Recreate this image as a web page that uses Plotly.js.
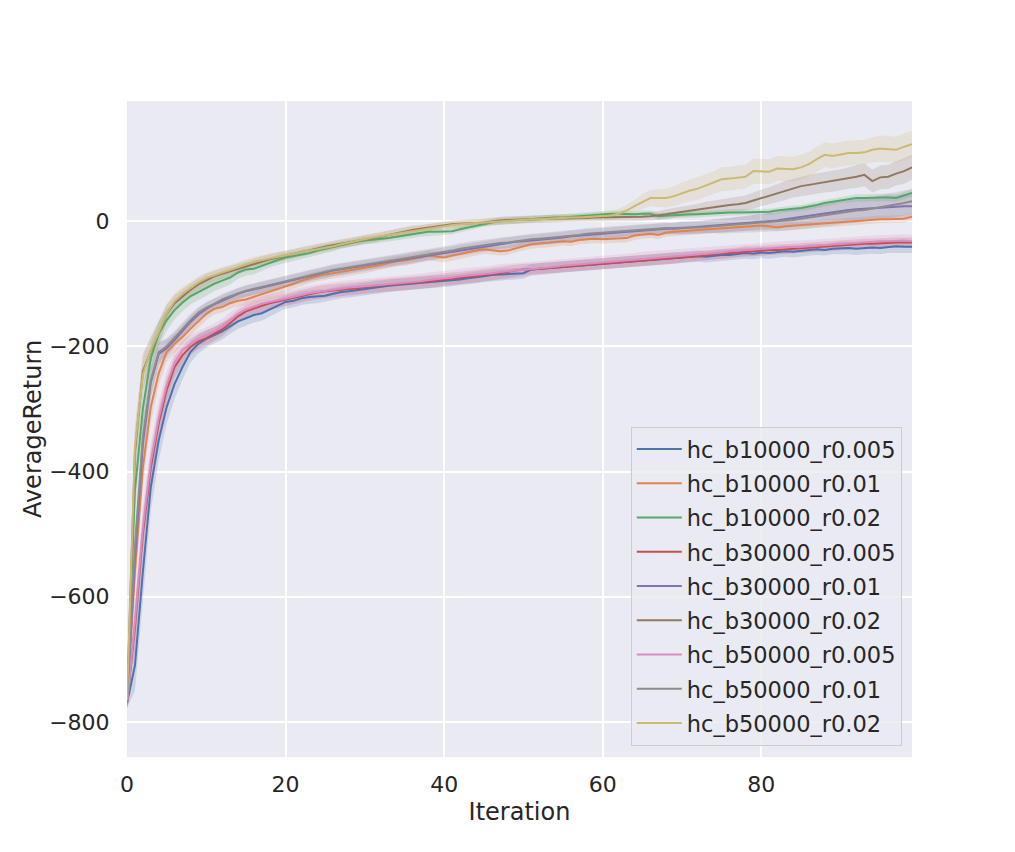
<!DOCTYPE html>
<html>
<head>
<meta charset="utf-8">
<script src="https://cdn.plot.ly/plotly-3.0.1.min.js"></script>
<style>html,body{margin:0;padding:0;background:#fff;}#chart{width:1015px;height:852px;}</style>
</head>
<body>
<div id="chart"></div>
<script>
// ---- data ----
const seriesNames = ["hc_b10000_r0.005","hc_b10000_r0.01","hc_b10000_r0.02","hc_b30000_r0.005","hc_b30000_r0.01","hc_b30000_r0.02","hc_b50000_r0.005","hc_b50000_r0.01","hc_b50000_r0.02"];
const seriesColors = ["#4C72B0","#DD8452","#55A868","#C44E52","#8172B3","#937860","#DA8BC3","#8C8C8C","#CCB974"];
const iterations = Array.from({length:100},(_,i)=>i);

const b10000_r0005 = [-770,-710,-560,-425,-350,-297,-260,-233,-209,-196,-188,-182,-176,-168,-160,-155,-150,-147,-141,-135,-129,-127,-123,-121,-120,-119,-116,-113,-112,-110,-109,-107,-105,-103,-102,-101,-100,-99,-98,-97,-96,-95,-93,-91,-90,-88,-86,-85,-84,-84,-83,-77,-76,-75,-74,-73,-72,-71,-70,-69,-68,-67,-66,-65,-64,-63,-62,-61,-61,-60,-58,-57,-56,-57,-55,-54,-54,-52,-51,-52,-50,-51,-49,-48,-49,-47,-46,-45,-46,-44,-43,-43,-44,-43,-42,-43,-41,-40,-41,-41];
const b10000_r001 = [-768,-560,-394,-297,-243,-209,-196,-185,-172,-160,-148,-140,-137,-131,-127,-125,-121,-117,-113,-109,-105,-100,-95,-91,-88,-85,-83,-81,-79,-77,-75,-73,-70,-67,-64,-63,-61,-58,-55,-56,-58,-55,-52,-50,-47,-45,-46,-48,-47,-43,-40,-37,-36,-35,-34,-32,-33,-30,-29,-28,-29,-28,-27,-27,-23,-21,-20,-22,-18,-17,-16,-15,-14,-14,-13,-12,-11,-10,-9,-8,-7,-8,-10,-8,-7,-6,-5,-5,-4,-3,-2,-1,0,1,2,3,3,4,4,7];
const b10000_r002 = [-768,-430,-300,-219,-180,-158,-142,-130,-120,-113,-107,-100,-95,-90,-82,-77,-76,-71,-66,-62,-58,-56,-54,-51,-47,-44,-42,-38,-36,-33,-31,-30,-29,-27,-25,-23,-21,-19,-17,-17,-17,-16,-13,-10,-7,-4,-2,0,1,1,2,3,4,5,6,6,7,8,10,11,12,12,12,11,11,12,12,8,9,10,10,11,11,12,13,13,14,14,14,15,15,15,17,19,20,21,23,26,29,31,34,35,37,37,38,38,38,37,41,45];
const b30000_r0005 = [-768,-650,-500,-394,-323,-270,-233,-214,-201,-192,-187,-180,-173,-163,-152,-144,-139,-135,-131,-128,-125,-122,-119,-116,-114,-112,-111,-110,-108,-107,-106,-104,-103,-102,-101,-100,-99,-98,-97,-95,-93,-92,-90,-89,-88,-86,-85,-83,-81,-79,-77,-77,-76,-75,-74,-73,-72,-70,-69,-68,-67,-66,-65,-64,-63,-62,-61,-61,-60,-59,-58,-57,-56,-55,-53,-52,-51,-50,-48,-48,-47,-46,-46,-45,-44,-43,-42,-41,-40,-39,-38,-37,-37,-36,-36,-35,-35,-34,-34,-34];
const b30000_r001 = [-772,-540,-355,-258,-212,-203,-190,-175,-161,-149,-140,-133,-127,-121,-116,-112,-109,-106,-103,-100,-97,-93,-90,-87,-84,-82,-79,-77,-75,-72,-70,-68,-66,-64,-62,-60,-58,-56,-54,-52,-50,-48,-46,-44,-42,-40,-38,-36,-35,-33,-32,-31,-29,-28,-27,-26,-24,-23,-22,-21,-20,-18,-17,-16,-15,-14,-14,-13,-12,-12,-11,-11,-10,-9,-8,-7,-6,-5,-4,-3,-2,0,1,3,5,7,8,10,12,14,16,18,19,20,21,22,23,23,24,24];
const b30000_r002 = [-770,-370,-240,-207,-178,-148,-131,-120,-110,-101,-94,-88,-84,-80,-76,-72,-68,-64,-61,-58,-55,-52,-49,-46,-43,-41,-38,-36,-34,-32,-29,-27,-25,-22,-19,-16,-14,-12,-10,-8,-6,-5,-4,-4,-3,-2,0,1,2,2,3,3,3,4,4,5,5,5,5,6,6,6,6,6,6,7,8,9,11,13,15,17,19,21,23,24,26,27,29,33,37,41,45,49,53,56,58,60,62,64,66,69,71,74,64,70,71,76,80,86];
const b50000_r0005 = [-772,-640,-490,-385,-315,-262,-226,-206,-196,-188,-182,-176,-168,-158,-148,-141,-136,-132,-129,-126,-123,-121,-118,-115,-113,-111,-109,-108,-106,-105,-104,-102,-101,-100,-99,-98,-97,-96,-94,-93,-91,-90,-88,-87,-86,-84,-83,-81,-80,-78,-77,-76,-75,-74,-73,-71,-70,-69,-68,-67,-66,-65,-64,-63,-62,-60,-59,-58,-57,-56,-55,-54,-53,-52,-51,-50,-48,-47,-46,-45,-45,-44,-43,-42,-41,-41,-40,-39,-38,-37,-36,-35,-35,-34,-33,-32,-32,-31,-31,-32];
const b50000_r001 = [-770,-520,-345,-254,-209,-200,-186,-172,-158,-146,-138,-132,-125,-120,-115,-111,-108,-105,-102,-99,-96,-93,-90,-86,-83,-80,-78,-76,-74,-71,-69,-67,-65,-63,-61,-59,-57,-55,-53,-51,-49,-47,-44,-42,-40,-38,-37,-35,-34,-32,-31,-29,-28,-27,-26,-24,-23,-22,-20,-19,-18,-17,-16,-15,-15,-13,-12,-12,-11,-11,-10,-10,-10,-9,-8,-8,-7,-6,-5,-4,-3,-2,0,1,2,4,6,8,9,11,13,15,17,18,20,22,24,27,29,32];
const b50000_r002 = [-765,-360,-245,-206,-177,-147,-128,-116,-107,-98,-91,-86,-82,-78,-73,-69,-65,-62,-59,-57,-55,-52,-49,-47,-45,-43,-40,-37,-34,-31,-29,-26,-24,-22,-20,-17,-15,-13,-11,-9,-7,-6,-5,-4,-3,-2,-1,0,1,1,2,3,3,4,5,5,6,6,7,7,8,9,12,17,24,31,37,37,37,40,45,49,52,57,62,67,68,69,71,80,80,79,84,84,83,86,91,99,106,104,107,109,109,110,114,116,115,114,119,123];

// half-widths of the shaded confidence bands
const band_b10000_r0005 = [8,40,42,38,32,27,24,20,17,15,14,13,13,12,12,12,12,12,11,11,11,11,11,11,11,10,10,10,10,10,10,10,10,10,10,10,10,10,10,10,9,9,9,9,9,9,9,9,9,9,9,9,9,9,9,9,9,9,9,9,9,9,9,9,9,9,9,9,9,9,9,9,9,9,9,9,9,9,9,9,9,9,9,9,9,9,9,9,9,9,10,10,10,10,10,10,10,10,10,10];
const band_b10000_r001 = [8,35,30,25,20,16,14,12,11,10,10,9,9,9,9,9,9,8,8,8,8,8,8,8,8,8,8,8,8,8,8,8,8,8,8,8,8,8,8,8,8,8,8,8,8,7,7,7,7,7,7,7,7,7,7,7,7,7,7,7,7,7,7,7,7,7,7,7,7,7,6,6,6,6,6,6,6,6,6,6,6,6,6,6,6,6,6,6,6,6,6,6,6,6,6,6,6,6,6,6];
const band_b10000_r002 = [8,35,30,24,20,17,15,14,13,13,12,12,11,11,10,10,9,9,8,8,8,7,7,7,7,7,6,6,6,6,6,6,6,6,6,6,6,6,6,6,5,5,5,5,5,5,5,5,5,5,5,5,5,5,5,5,5,5,5,5,5,5,5,5,5,5,5,5,5,5,5,5,5,5,5,5,5,5,5,5,5,5,5,5,5,5,5,5,5,5,5,5,6,6,6,6,6,6,6,6];
const band_b30000_r0005 = [8,35,32,28,24,20,17,15,13,12,12,11,11,10,10,10,10,10,10,10,10,10,10,10,10,10,10,10,10,10,10,10,10,10,10,10,10,10,10,10,10,10,10,10,10,10,10,10,10,10,9,9,9,9,9,9,9,9,9,9,9,9,9,9,9,9,9,9,9,9,8,8,8,8,8,8,8,8,8,8,8,8,8,8,8,8,8,8,8,8,8,8,8,8,8,8,8,8,8,8];
const band_b30000_r001 = [8,35,30,24,18,14,12,11,10,10,10,9,9,9,9,9,9,9,9,9,9,9,9,9,9,9,9,9,9,9,9,9,9,9,9,9,9,9,9,9,9,9,9,9,9,9,9,9,9,9,9,9,9,9,9,9,9,9,9,9,9,9,9,9,9,9,9,9,9,9,10,10,10,10,11,11,11,12,12,12,13,13,13,14,14,14,15,15,15,16,16,16,17,17,17,18,18,18,19,19];
const band_b30000_r002 = [8,35,28,22,18,15,13,12,11,10,10,9,9,9,9,8,8,8,8,8,8,7,7,7,7,7,7,7,7,7,7,7,7,7,7,7,7,6,6,6,6,6,6,6,6,6,6,6,6,6,6,6,6,6,6,6,6,6,6,6,6,6,6,6,6,7,7,7,8,8,8,9,9,10,10,11,11,12,12,13,13,14,14,15,15,15,16,16,16,17,17,17,18,18,18,19,19,19,20,20];
const band_b50000_r0005 = [8,38,34,30,26,22,19,16,14,13,13,12,12,12,12,12,12,12,12,12,12,12,12,12,12,12,12,12,12,12,12,12,12,12,12,12,12,12,12,12,12,12,12,12,12,12,12,12,12,12,11,11,11,11,11,11,11,11,11,11,11,11,11,11,11,11,11,11,11,11,10,10,10,10,10,10,10,10,10,10,10,10,10,10,10,10,10,10,10,10,10,10,10,10,10,10,10,10,10,10];
const band_b50000_r001 = [8,35,28,22,16,13,11,10,10,9,9,9,9,9,9,9,9,9,9,9,9,9,9,9,9,9,9,9,9,9,9,9,9,9,9,9,9,9,9,9,9,9,9,9,9,9,9,9,9,9,9,9,9,9,9,9,9,9,9,9,9,9,9,9,9,9,9,9,9,9,10,10,10,11,11,12,12,13,13,14,14,15,15,16,16,16,17,17,17,18,18,18,19,19,19,20,20,20,20,20];
const band_b50000_r002 = [8,35,28,22,17,14,12,11,10,10,9,9,9,8,8,8,8,8,8,8,8,7,7,7,7,7,7,7,7,7,7,7,7,7,7,7,7,6,6,6,6,6,6,6,6,6,6,6,6,6,6,6,6,6,6,6,6,6,6,6,7,7,8,9,10,12,13,14,15,16,17,17,18,18,18,19,19,19,19,20,20,20,20,20,20,20,20,20,20,20,20,20,20,20,20,21,21,21,21,21];

const seriesValues = [b10000_r0005,b10000_r001,b10000_r002,b30000_r0005,b30000_r001,b30000_r002,b50000_r0005,b50000_r001,b50000_r002];
const seriesBands = [band_b10000_r0005,band_b10000_r001,band_b10000_r002,band_b30000_r0005,band_b30000_r001,band_b30000_r002,band_b50000_r0005,band_b50000_r001,band_b50000_r002];

function rgba(hex,a){const n=parseInt(hex.slice(1),16);return `rgba(${(n>>16)&255},${(n>>8)&255},${n&255},${a})`;}

const traces = [];
seriesNames.forEach((name,k)=>{
  const y = seriesValues[k], h = seriesBands[k];
  const up = y.map((v,i)=>v+h[i]);
  const lo = y.map((v,i)=>v-h[i]);
  traces.push({
    x: iterations.concat(iterations.slice().reverse()),
    y: up.concat(lo.slice().reverse()),
    type:'scatter', mode:'lines', fill:'toself',
    fillcolor: rgba(seriesColors[k],0.2), line:{width:0, color:'rgba(0,0,0,0)'},
    hoverinfo:'skip', showlegend:false, legendgroup:'g'+k
  });
});
seriesNames.forEach((name,k)=>{
  traces.push({
    x: iterations, y: seriesValues[k], name: name, legendgroup:'g'+k,
    type:'scatter', mode:'lines', line:{color:seriesColors[k], width:2}
  });
});

const font = {family:'"DejaVu Sans", sans-serif', color:'#262626'};
const layout = {
  width:1015, height:852,
  margin:{l:127, r:103, t:101, b:95, pad:0},
  paper_bgcolor:'#ffffff', plot_bgcolor:'#EAEAF2',
  font: Object.assign({size:22}, font),
  showlegend:true,
  xaxis:{
    range:[0,99], tickvals:[0,20,40,60,80], zeroline:false,
    showgrid:true, gridcolor:'#ffffff', gridwidth:1.6,
    ticks:'outside', ticklen:8, tickcolor:'rgba(0,0,0,0)',
    showline:false, tickfont:Object.assign({size:22},font),
    title:{text:'Iteration', font:Object.assign({size:24},font), standoff:6}
  },
  yaxis:{
    range:[-856,192], tickvals:[-800,-600,-400,-200,0], zeroline:false,
    showgrid:true, gridcolor:'#ffffff', gridwidth:1.6,
    ticks:'outside', ticklen:12, tickcolor:'rgba(0,0,0,0)',
    showline:false, tickfont:Object.assign({size:22},font),
    title:{text:'AverageReturn', font:Object.assign({size:24},font), standoff:0}
  },
  legend:{
    x:0.987, y:0.017, xanchor:'right', yanchor:'bottom',
    bgcolor:'rgba(234,234,242,0.8)', bordercolor:'#cccccc', borderwidth:1,
    font:Object.assign({size:22.5},font), itemwidth:45, traceorder:'grouped', tracegroupgap:2
  }
};

Plotly.newPlot('chart', traces, layout, {displayModeBar:false, responsive:false});
</script>
</body>
</html>
